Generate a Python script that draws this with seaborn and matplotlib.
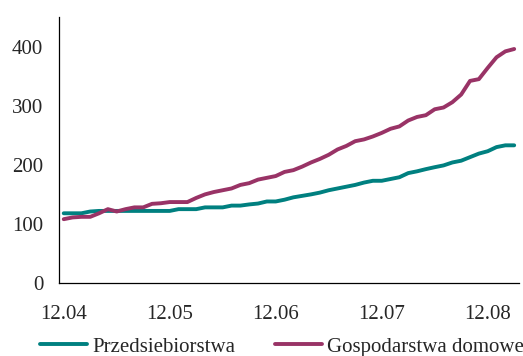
import matplotlib
matplotlib.use("Agg")
import matplotlib.pyplot as plt
import seaborn as sns
import pandas as pd
import numpy as np

sns.set_style("white")
plt.rcParams['font.family'] = ['Liberation Serif', 'DejaVu Serif']

# Monthly observations, 12.2004 onward (52 months)
przedsiebiorstwa = [118, 118, 118, 121, 122, 122, 122, 122, 122, 122, 122, 122, 122,
                    125, 125, 125, 128, 128, 128, 131, 131, 133, 134.5, 138, 138, 141,
                    145, 147.5, 150, 153, 157, 160, 163, 166, 170, 173, 173, 176, 179,
                    186, 189, 192.7, 196, 199, 204, 207, 213, 219, 223, 230, 233, 233]
gospodarstwa = [108, 111, 112, 112, 118, 125, 121, 125, 128, 128, 134, 135, 137,
                137, 137, 144, 150, 154, 157, 160, 166, 169, 175, 178, 181, 188,
                191, 197, 204, 210, 217, 226, 232, 240, 243, 248, 254, 261, 265,
                275, 281, 284, 294, 297, 306, 319, 342, 345, 364, 382, 392, 396]
tick_labels = ["12.04", "12.05", "12.06", "12.07", "12.08"]
series_names = ["Przedsiebiorstwa", "Gospodarstwa domowe"]

FS = 15

n = len(przedsiebiorstwa)
month = list(range(n))
df = pd.DataFrame({
    "month": month * 2,
    "value": przedsiebiorstwa + gospodarstwa,
    "series": [series_names[0]] * n + [series_names[1]] * n,
})

fig = plt.figure(figsize=(5.23, 3.56), dpi=100)
ax = fig.add_axes([0.1134, 0.205, 0.9916 - 0.1134, 0.952 - 0.205])

sns.lineplot(data=df, x="month", y="value", hue="series",
             palette={series_names[0]: "#008080", series_names[1]: "#993366"},
             linewidth=2.8, ax=ax, legend=True)

ax.set_xlim(-0.5, n - 0.5)
ax.set_ylim(0, 450)
ax.set_yticks([0, 100, 200, 300, 400])
ax.set_xlabel("")
ax.set_ylabel("")

# tick marks at category boundaries every 6 months; labels at category centers every 12
ax.set_xticks(np.arange(-0.5, n, 6))
ax.set_xticklabels([])
ax.set_xticks(np.arange(0, n, 12), minor=True)
ax.set_xticklabels(tick_labels, minor=True, fontfamily="Liberation Serif")
ax.tick_params(axis="x", which="major", direction="out", length=4.5, width=0.8, color="black")
ax.tick_params(axis="x", which="minor", length=0, pad=16, labelsize=FS)
ax.tick_params(axis="y", direction="out", length=4.5, width=0.8, color="black", pad=7, labelsize=FS)
for lab in ax.get_yticklabels():
    lab.set_fontfamily("Liberation Serif")

for side in ["top", "right"]:
    ax.spines[side].set_visible(False)
for side in ["left", "bottom"]:
    ax.spines[side].set_color("black")
    ax.spines[side].set_linewidth(0.9)

handles, labels = ax.get_legend_handles_labels()
ax.get_legend().remove()
fig.legend(handles, labels, loc="center left", bbox_to_anchor=(40 / 523, 0.026), ncol=2,
           frameon=False, prop={"family": "Liberation Serif", "size": FS},
           handlelength=2.26, handletextpad=0.24, columnspacing=1.92,
           borderpad=0, borderaxespad=0)

fig.savefig("out.png", dpi=100)
